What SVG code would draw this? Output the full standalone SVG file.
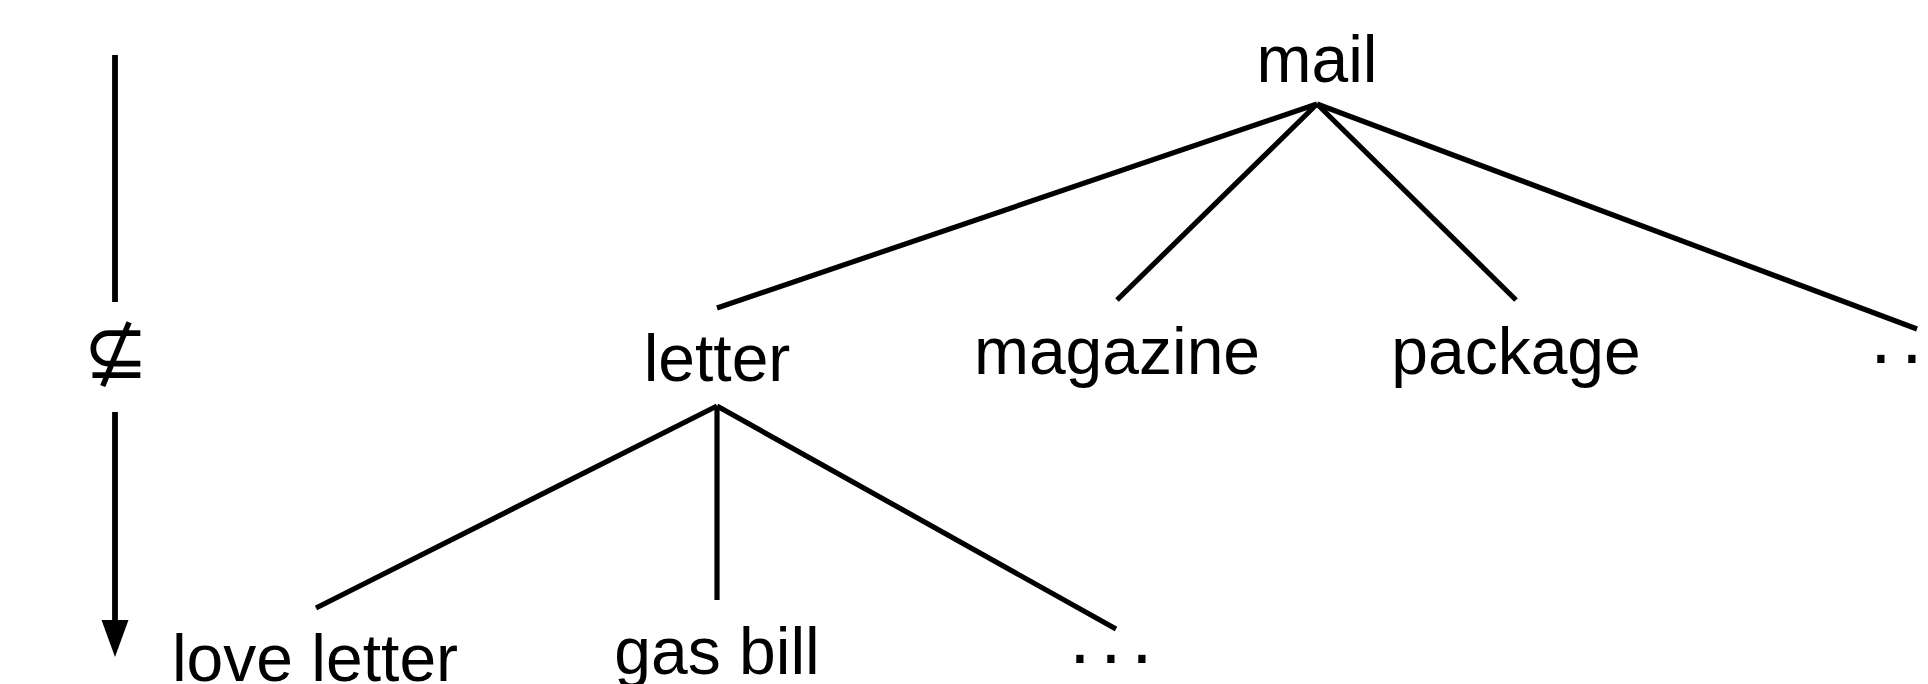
<svg xmlns="http://www.w3.org/2000/svg" width="1928" height="684" viewBox="0 0 1928 684">
<style>
.lbl{font-family:"Liberation Sans",Arial,sans-serif;font-size:66px;fill:#000;text-anchor:middle}
.dots{font-family:"Liberation Sans",Arial,sans-serif;font-size:76px;fill:#000;text-anchor:middle}
.edge{stroke:#000;stroke-width:5.2;fill:none;stroke-linecap:butt}
.axis{stroke:#000;stroke-width:5.8;fill:none}
.sym{font-family:"DejaVu Sans",sans-serif;font-size:78px;fill:#000;text-anchor:middle}
</style>
<rect width="1928" height="684" fill="#fff"/>
<g id="axis">
<line class="axis" x1="115" y1="55" x2="115" y2="302"/>
<text class="sym" x="116" y="378">⊈</text>
<line class="axis" x1="115" y1="412" x2="115" y2="624"/>
<path d="M101.5,620 L128.5,620 L115,657 Z" fill="#000"/>
</g>
<g id="connectors">
<line class="edge" x1="1317" y1="104" x2="717" y2="308"/>
<line class="edge" x1="1317" y1="104" x2="1117" y2="300"/>
<line class="edge" x1="1317" y1="104" x2="1516" y2="300"/>
<line class="edge" x1="1317" y1="104" x2="1917" y2="329"/>
<line class="edge" x1="717" y1="406" x2="316" y2="608"/>
<line class="edge" x1="717" y1="406" x2="717" y2="600"/>
<line class="edge" x1="717" y1="406" x2="1116" y2="629"/>
</g>
<g id="n-mail"><text class="lbl" x="1317" y="82">mail</text></g>
<g id="n-letter"><text class="lbl" x="717" y="381">letter</text></g>
<g id="n-magazine"><text class="lbl" x="1117" y="374">magazine</text></g>
<g id="n-package"><text class="lbl" x="1516" y="374">package</text></g>
<g id="n-dots1"><text class="dots" x="1881 1912 1943" y="380">···</text></g>
<g id="n-loveletter"><text class="lbl" x="315" y="681">love letter</text></g>
<g id="n-gasbill"><text class="lbl" x="717" y="674">gas bill</text></g>
<g id="n-dots2"><text class="dots" x="1080 1111 1142" y="680">···</text></g>
</svg>
